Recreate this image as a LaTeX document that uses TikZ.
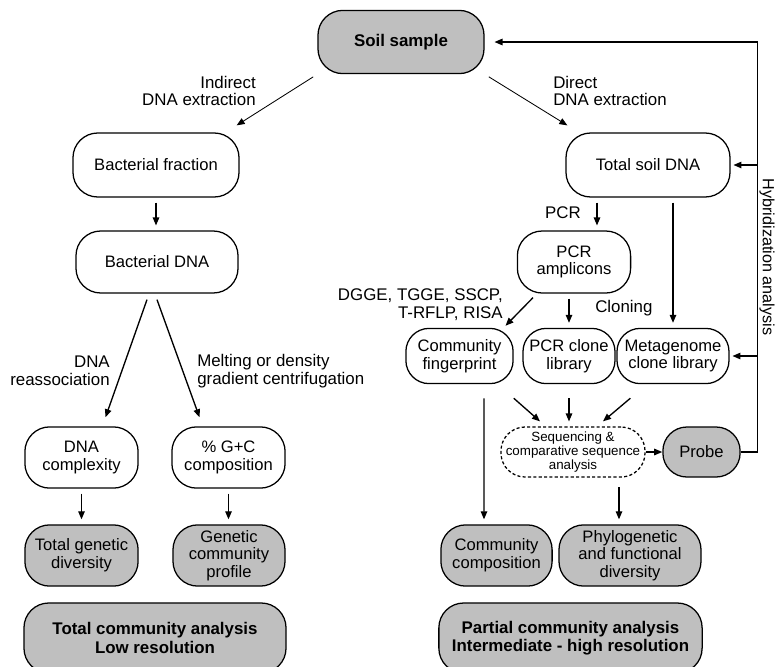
\documentclass[tikz,border=0pt]{standalone}
\usepackage{fontspec}
\setmainfont{Liberation Sans}
\usetikzlibrary{arrows.meta,calc}

\begin{document}
\begin{tikzpicture}[x=0.025cm, y=-0.025cm,
    box/.style={draw, rounded corners=0.62cm, align=center, inner sep=1pt, line width=0.9pt, font=\fontsize{11.8}{12.6}\selectfont},
    result/.style={box, fill=black!25},
    main/.style={result, font=\fontsize{12}{13}\selectfont\bfseries},
    txt/.style={inner sep=0pt, font=\fontsize{12}{12.6}\selectfont},
    arr/.style={-{Triangle[length=5.7pt,width=4.6pt]}, line width=0.95pt, shorten <=3.5pt, shorten >=3.5pt}]
    \useasboundingbox (0,0) rectangle (778,666);
    \clip (0,0) rectangle (778,666);

    \node[main, minimum width=4.15cm, minimum height=1.58cm] (soil) at (401,42) {Soil sample};

    \node[box, minimum width=4.15cm, minimum height=1.6cm] (bfrac) at (156,165) {Bacterial fraction};
    \node[box, minimum width=4.1cm, minimum height=1.6cm] (tdna) at (648,165) {Total soil DNA};
    \node[box, minimum width=4.05cm, minimum height=1.55cm] (bdna) at (157,262) {Bacterial DNA};
    \node[box, minimum width=2.83cm, minimum height=1.55cm] (amp) at (574,262) {PCR\\amplicons};

    \node[box, rounded corners=0.58cm, minimum width=2.68cm, minimum height=1.38cm] (fprint) at (459.5,356) {Community\\fingerprint};
    \node[box, rounded corners=0.58cm, minimum width=2.3cm, minimum height=1.38cm] (pclib) at (569,356) {PCR clone\\library};
    \node[box, rounded corners=0.58cm, minimum width=2.8cm, minimum height=1.38cm] (mglib) at (673,356) {Metagenome\\clone library};
    \node[box, dash pattern=on 2.2pt off 1.6pt, rounded corners=0.6cm, minimum width=3.6cm, minimum height=1.25cm,
          font=\fontsize{9.5}{10}\selectfont] (seq) at (573,452) {Sequencing \&\\comparative sequence\\analysis};
    \node[result, rounded corners=0.6cm, minimum width=1.93cm, minimum height=1.25cm] (probe) at (701.5,452) {Probe};

    \node[box, minimum width=2.83cm, minimum height=1.53cm] (cplx) at (81.5,457.5) {DNA\\complexity};
    \node[box, minimum width=2.83cm, minimum height=1.53cm] (gc) at (228.5,457.5) {\% G+C\\composition};

    \node[result, minimum width=2.83cm, minimum height=1.53cm] (tgd) at (81.5,555.5) {Total genetic\\diversity};
    \node[result, minimum width=2.8cm, minimum height=1.53cm] (gcp) at (229,555.5) {Genetic\\community\\profile};
    \node[result, minimum width=2.78cm, minimum height=1.53cm] (ccomp) at (496.5,555.5) {Community\\composition};
    \node[result, minimum width=3.55cm, minimum height=1.53cm] (phylo) at (630,555.5) {Phylogenetic\\and functional\\diversity};

    \node[main, minimum width=6.55cm, minimum height=1.75cm] (tca) at (155,638) {Total community analysis\\Low resolution};
    \node[main, minimum width=6.58cm, minimum height=1.75cm] (pca) at (570.5,638) {Partial community analysis\\Intermediate - high resolution};

    \node[txt, anchor=east, align=right] (lind) at (256,91) {Indirect\\DNA extraction};
    \node[txt, anchor=west, align=left] (ldir) at (553,91) {Direct\\DNA extraction};
    \node[txt, anchor=east] (lpcr) at (581,213) {PCR};
    \node[txt, anchor=east, align=right] (lfp) at (503,305) {DGGE, TGGE, SSCP,\\T-RFLP, RISA};
    \node[txt, anchor=west] (lclon) at (595,308) {Cloning};
    \node[txt, anchor=east, align=right] (lrea) at (110,371) {DNA\\reassociation};
    \node[txt, anchor=west, align=left] (lmelt) at (197,371) {Melting or density\\gradient centrifugation};
    \node[txt, rotate=-90, font=\fontsize{11.5}{12}\selectfont] (lhyb) at (767,257) {Hybridization analysis};

    \coordinate (hyb) at (757,0);

    \draw[arr, line width=0.6pt, shorten >=0pt] (soil.south west) -- ($(bfrac.north east)+(-3,-7)$);
    \draw[arr, line width=0.6pt, shorten >=0pt] (soil.south east) -- ($(tdna.north west)+(2,-7)$);
    \draw[arr] (bfrac.south) -- (bfrac.south |- bdna.north);
    \draw[arr] ($(tdna.south)+(-51,0)$) -- ($(amp.north)+(23,0)$);
    \draw[arr] (mglib.north |- tdna.south) -- (mglib.north);

    \draw[arr, shorten <=0pt, shorten >=0pt] ($(bdna.south)+(-10,6)$) -- ($(cplx.north)+(24,-9)$);
    \draw[arr, shorten <=0pt, shorten >=0pt] ($(bdna.south)+(0,6)$) -- ($(gc.north)+(-29,-9)$);
    \draw[arr] (cplx.south) -- (cplx.south |- tgd.north);
    \draw[arr] (gc.south) -- (gc.south |- gcp.north);

    \draw[arr, shorten <=0pt, shorten >=0pt] ($(amp.south)+(-41,4)$) -- ($(fprint.north)+(46,-2)$);
    \draw[arr] (pclib.north |- amp.south) -- (pclib.north);
    \draw[arr, shorten <=0pt, shorten >=0pt] ($(fprint.south east)+(0,14)$) -- ($(seq.north)+(-33,-5)$);
    \draw[arr, shorten <=10pt] (pclib.south) -- (pclib.south |- seq.north);
    \draw[arr, shorten <=0pt, shorten >=0pt] ($(mglib.south west)+(14,14)$) -- ($(seq.north)+(30,-5)$);
    \draw[arr, shorten <=0pt, shorten >=0pt] (seq.east) -- (probe.west);

    \draw[arr, shorten <=10pt] ($(fprint.south)+(24.5,0)$) -- ($(ccomp.north)+(-12.5,0)$);
    \draw[arr, shorten <=7pt] ($(seq.south)+(46,0)$) -- ($(phylo.north)+(-11,0)$);

    \draw[arr, shorten <=0pt, shorten >=7pt] (probe.east) -- ++(17,0) |- (soil.east);
    \draw[arr, shorten <=0pt, shorten >=2pt] (hyb |- tdna.east) -- (tdna.east);
    \draw[arr, shorten <=0pt, shorten >=2pt] (hyb |- mglib.east) -- (mglib.east);
\end{tikzpicture}
\end{document}
